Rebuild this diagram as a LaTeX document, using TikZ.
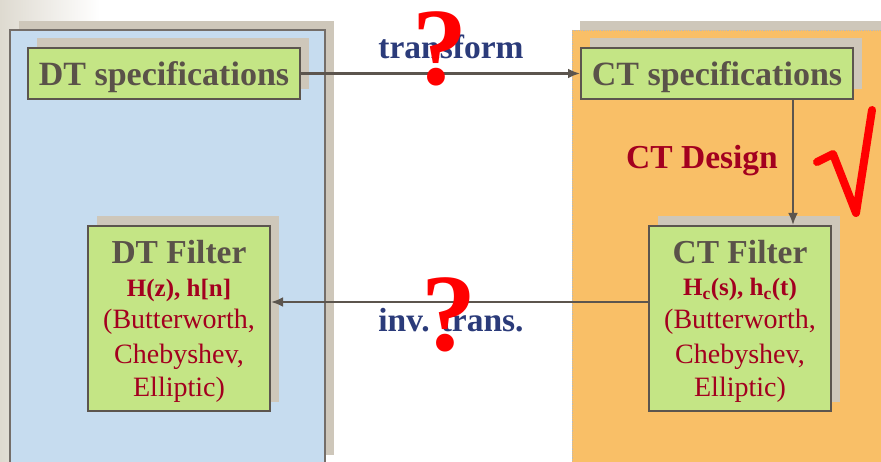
\documentclass[tikz,border=0pt]{standalone}
\usepackage{fontspec}
\setmainfont{Liberation Serif}
\usetikzlibrary{arrows.meta,calc,shadows}

\definecolor{boxgreen}{HTML}{C4E585}
\definecolor{shadowtan}{HTML}{CEC7BA}
\definecolor{panelblue}{HTML}{C6DCEF}
\definecolor{panelorange}{HTML}{F9BF67}
\definecolor{bgbeige}{HTML}{DEDAD0}
\definecolor{boxedge}{HTML}{5C554E}
\definecolor{darktext}{HTML}{5A5249}
\definecolor{redtext}{HTML}{A3001F}
\definecolor{bluetext}{HTML}{2B3B7A}
\definecolor{markred}{HTML}{FF0000}

\begin{document}
\begin{tikzpicture}[x=1pt,y=-1pt,
  boxshadow/.style={general shadow={fill=shadowtan, shadow xshift=8.5pt, shadow yshift=9.5pt}},
  specbox/.style={boxshadow, draw=boxedge, line width=2pt, fill=boxgreen,
    minimum width=272pt, minimum height=51pt, inner sep=0pt,
    text height=25pt, text depth=0pt, text=darktext,
    font=\fontsize{34}{34}\selectfont\bfseries},
  filterbox/.style={boxshadow, draw=boxedge, line width=2pt, fill=boxgreen,
    minimum width=182pt, minimum height=185pt, inner sep=0pt},
  ftitle/.style={anchor=base, inner sep=0pt, text=darktext, font=\fontsize{33.5}{33.5}\selectfont\bfseries},
  fsys/.style={anchor=base, inner sep=0pt, text=redtext, font=\fontsize{25}{25}\selectfont\bfseries},
  ftype/.style={anchor=base, inner sep=0pt, text=redtext, font=\fontsize{28}{28}\selectfont},
  flowlabel/.style={anchor=base, inner sep=0pt, text=bluetext, font=\fontsize{33.5}{33.5}\selectfont\bfseries},
  designlabel/.style={anchor=base, inner sep=0pt, text=redtext, font=\fontsize{33.5}{33.5}\selectfont\bfseries},
  qmark/.style={anchor=base, inner sep=0pt, text=markred, font=\fontsize{110}{110}\selectfont\bfseries},
  flow/.style={draw=boxedge, line width=2.8pt, -{Latex[length=12pt,width=10pt]}}
]
\useasboundingbox (0,0) rectangle (881,462);

% slide background
\fill[white] (0,0) rectangle (881,462);
\shade[left color=bgbeige, right color=white] (0,0) rectangle (100,462);

% discrete-time panel
\fill[shadowtan] (19,21) rectangle (334,455);
\filldraw[fill=panelblue, draw=boxedge!85, line width=1.5pt] (10,30) rectangle (325,470);

% continuous-time panel
\fill[shadowtan] (580,21) rectangle (900,455);
\filldraw[fill=panelorange, draw=gray!55, densely dotted, line width=0.8pt] (572,30) rectangle (900,470);

% specification boxes
\node[specbox] (dts) at (164,73.5) {DT specifications};
\node[specbox] (cts) at (717,73.5) {CT specifications};

% filter boxes
\node[filterbox] (dtf) at (179,318.5) {};
\node[filterbox] (ctf) at (740,318.5) {};

\node[ftitle] (dtf1) at ($(dtf.north)+(0,39)$) {DT Filter};
\node[fsys]   (dtf2) at ($(dtf.north)+(0,72)$) {H(z), h[n]};
\node[ftype]  (dtf3) at ($(dtf.north)+(0,104)$) {(Butterworth,};
\node[ftype]  (dtf4) at ($(dtf.north)+(0,138)$) {Chebyshev,};
\node[ftype]  (dtf5) at ($(dtf.north)+(0,171)$) {Elliptic)};

\node[ftitle] (ctf1) at ($(ctf.north)+(0,39)$) {CT Filter};
\node[fsys]   (ctf2) at ($(ctf.north)+(0,71)$) {H\textsubscript{c}(s), h\textsubscript{c}(t)};
\node[ftype]  (ctf3) at ($(ctf.north)+(0,104)$) {(Butterworth,};
\node[ftype]  (ctf4) at ($(ctf.north)+(0,138)$) {Chebyshev,};
\node[ftype]  (ctf5) at ($(ctf.north)+(0,171)$) {Elliptic)};

% connectors
\coordinate (downx) at (793,0);
\coordinate (backy) at (0,302);
\draw[flow] (dts.east) -- (cts.west);
\draw[flow] (cts.south -| downx) -- (ctf.north -| downx);
\draw[flow] (ctf.west |- backy) -- (dtf.east |- backy);

% connector labels
\node[flowlabel] (ltr) at (451,59) {transform};
\node[flowlabel] (linv) at (451,331) {inv. trans.};
\node[designlabel] (ldes) at (702,169) {CT Design};

% open questions and the solved step
\node[qmark] (q1) at (440,85) {?};
\node[qmark] (q2) at (449,350) {?};
\draw[markred, line width=8pt, line cap=round, line join=round]
  (817,162) -- (833,154) -- (856,213) -- (872,110);
\end{tikzpicture}
\end{document}
